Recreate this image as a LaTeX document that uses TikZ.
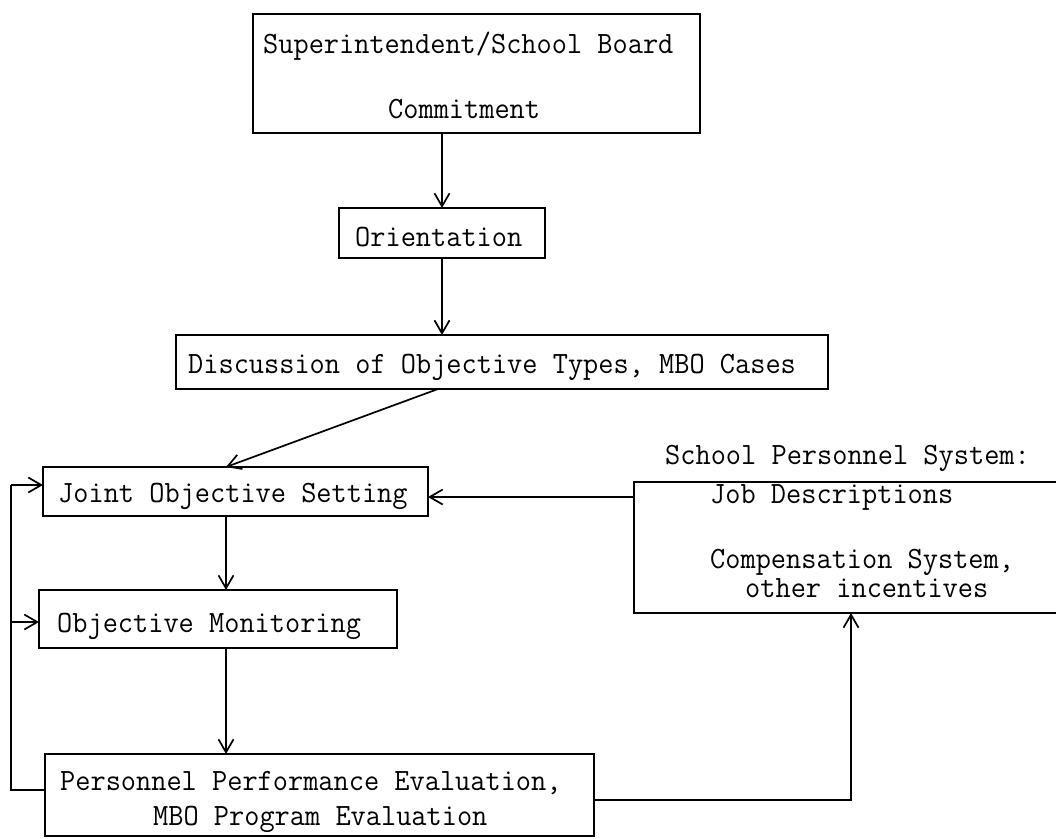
\documentclass[tikz,border=0pt]{standalone}
\usepackage{fontspec}
\usetikzlibrary{arrows.meta}
\newcommand{\vst}[1]{\scalebox{1}[1.05]{#1}}
\newcommand{\twfont}{\ttfamily\fontsize{29.5}{28}\selectfont\addfontfeatures{FakeBold=2}}
\begin{document}
\begin{tikzpicture}[x=1pt,y=-1pt,
  box/.style={draw, line width=1.8pt, inner sep=0pt, outer sep=0pt},
  lbl/.style={inner sep=0pt, anchor=base west, font=\twfont},
  conn/.style={line width=1.7pt},
  arr/.style={conn, -{Straight Barb[length=13pt,width=15pt,line width=1.7pt]}}]
\useasboundingbox (0,0) rectangle (1056,838);
\clip (0,0) rectangle (1056,838);

% boxes
\node[box, minimum width=447pt, minimum height=119pt] (sup) at (476.5,73.5) {};
\node[box, minimum width=206pt, minimum height=50pt] (ori) at (442,233) {};
\node[box, minimum width=652pt, minimum height=54pt] (disc) at (502,362) {};
\node[box, minimum width=385pt, minimum height=49pt] (joint) at (235.5,491.5) {};
\node[box, minimum width=358pt, minimum height=58pt] (mon) at (218,619) {};
\node[box, minimum width=549pt, minimum height=82pt] (pers) at (319.5,795) {};
\node[box, minimum width=436pt, minimum height=131pt] (school) at (852,547.5) {};

% texts
\node[lbl] (t1) at (263,53) {\vst{Superintendent/School Board}};
\node[lbl] (t2) at (388,118) {\vst{Commitment}};
\node[lbl] (t3) at (355,246) {\vst{Orientation}};
\node[lbl] (t4) at (188,373) {\vst{Discussion of Objective Types, MBO Cases}};
\node[lbl] (t5) at (58,502) {\vst{Joint Objective Setting}};
\node[lbl] (t6) at (57,632) {\vst{Objective Monitoring}};
\node[lbl] (t7) at (60,790) {\vst{Personnel Performance Evaluation,}};
\node[lbl] (t8) at (153,825) {\vst{MBO Program Evaluation}};
\node[lbl] (t9) at (665,464) {\vst{School Personnel System:}};
\node[lbl] (t10) at (710,503) {\vst{Job Descriptions}};
\node[lbl] (t11) at (710,568) {\vst{\begin{tabular}[t]{@{}l@{}}Compensation System,\\\hspace{35pt}other incentives\end{tabular}}};

% helper coordinates
\coordinate (jx) at (226,0);
\coordinate (dx) at (438,0);
\coordinate (lt) at (11,485);
\coordinate (lm) at (11,622);
\coordinate (lb) at (11,790);
\coordinate (rb) at (851,800);
\coordinate (sj) at (0,497);

% connectors
\draw[arr] (sup.south -| ori.north) -- (ori.north);
\draw[arr] (ori.south) -- (ori.south |- disc.north);
\draw[arr] (disc.south -| dx) -- (joint.north -| jx);
\draw[arr] (joint.south -| jx) -- (mon.north -| jx);
\draw[arr] (mon.south -| jx) -- (pers.north -| jx);
\draw[conn] (pers.west |- lb) -- (lb) -- (lt);
\draw[arr] (lt) -- (joint.west |- lt);
\draw[arr] (lm) -- (mon.west |- lm);
\draw[arr] (pers.east |- rb) -- (rb) -- (rb |- school.south);
\draw[arr] (school.west |- sj) -- (joint.east |- sj);
\end{tikzpicture}
\end{document}
